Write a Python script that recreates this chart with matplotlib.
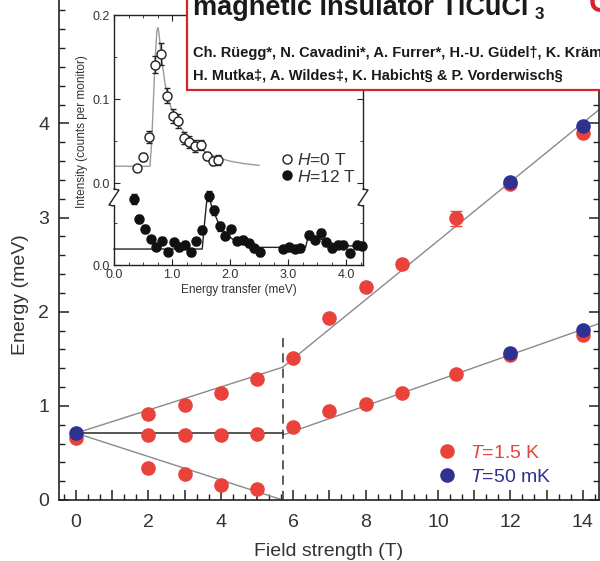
import matplotlib
matplotlib.use('Agg')
import matplotlib.pyplot as plt
from matplotlib.lines import Line2D
from matplotlib.patches import Rectangle
from matplotlib.ticker import MultipleLocator, FixedLocator, FuncFormatter

plt.rcParams['font.family'] = ['Liberation Sans', 'DejaVu Sans']
plt.rcParams['mathtext.fontset'] = 'custom'
plt.rcParams['mathtext.rm'] = 'Liberation Sans'
plt.rcParams['mathtext.it'] = 'Liberation Sans:italic'

RED = '#e8423a'
BLUE = '#2e3192'
GREY = '#8a8a8a'
TXT = '#333333'

# ---- main panel data: excitation energies vs field ----
red_x = [0, 2, 3, 4, 5, 2, 3, 4, 5, 2, 3, 4, 5,
         6, 7, 8, 9, 10.5, 12, 14,
         6, 7, 8, 9, 10.5, 12, 14]
red_y = [0.66, 0.91, 1.01, 1.14, 1.28, 0.69, 0.69, 0.69, 0.70, 0.34, 0.28, 0.16, 0.12,
         1.51, 1.93, 2.26, 2.51, 2.99, 3.36, 3.90,
         0.77, 0.94, 1.02, 1.14, 1.34, 1.54, 1.75]
blue_x = [0, 12, 14, 12, 14]
blue_y = [0.71, 3.38, 3.97, 1.56, 1.81]
err_x = [10.5]
err_y = [2.99]
err_e = [0.08]

# fitted branches (end points)
Hc = 5.71
low_x = [0, Hc]
low_up = [0.71, 1.41]
low_mid = [0.71, 0.71]
low_dn = [0.71, 0.0]
high_x = [Hc, 14.5]
high_up = [1.41, 4.16]
high_dn = [0.69, 1.88]

# ---- inset data: energy scans ----
e0 = [0.40, 0.50, 0.60, 0.70, 0.81, 0.91, 1.01, 1.10, 1.21, 1.30, 1.40, 1.50, 1.60, 1.70, 1.79]
i0 = [0.018, 0.031, 0.055, 0.141, 0.154, 0.104, 0.080, 0.074, 0.054, 0.049, 0.044, 0.045, 0.032, 0.026, 0.027]
s0 = [0.004, 0.005, 0.007, 0.010, 0.013, 0.009, 0.008, 0.008, 0.007, 0.007, 0.007, 0.006, 0.005, 0.005, 0.006]
fit0_x = [0, 0.62, 0.65, 0.68, 0.71, 0.74, 0.76, 0.78, 0.82, 0.88, 0.95, 1.05, 1.15, 1.25, 1.35,
          1.45, 1.6, 1.8, 2.0, 2.25, 2.5]
fit0_y = [0.02, 0.02, 0.05, 0.10, 0.15, 0.182, 0.185, 0.175, 0.148, 0.118, 0.096, 0.078, 0.066,
          0.056, 0.049, 0.043, 0.036, 0.030, 0.026, 0.023, 0.021]

e12 = [0.34, 0.43, 0.53, 0.63, 0.73, 0.83, 0.93, 1.03, 1.12, 1.22, 1.33, 1.42, 1.52, 1.63, 1.72,
       1.82, 1.92, 2.02, 2.12, 2.22, 2.32, 2.42, 2.52, 2.91, 3.01, 3.11, 3.21, 3.36, 3.46, 3.56,
       3.66, 3.76, 3.86, 3.95, 4.07, 4.18, 4.28]
i12 = [0.078, 0.055, 0.043, 0.031, 0.022, 0.029, 0.016, 0.027, 0.021, 0.024, 0.015, 0.028, 0.042,
       0.082, 0.065, 0.046, 0.035, 0.043, 0.029, 0.030, 0.026, 0.020, 0.015, 0.019, 0.021, 0.019,
       0.020, 0.036, 0.030, 0.038, 0.027, 0.020, 0.024, 0.024, 0.014, 0.024, 0.023]
s12 = [0.006, 0.005, 0.005, 0.004, 0.004, 0.004, 0.004, 0.004, 0.004, 0.004, 0.004, 0.004, 0.005,
       0.006, 0.005, 0.005, 0.004, 0.004, 0.004, 0.004, 0.004, 0.004, 0.004, 0.004, 0.004, 0.004,
       0.004, 0.005, 0.004, 0.005, 0.004, 0.004, 0.004, 0.004, 0.004, 0.004, 0.004]
fit12_x = [0, 1.52, 1.56, 1.60, 1.64, 1.70, 1.80, 1.90, 2.0, 2.1, 2.2, 2.3, 2.5, 3.3, 3.34, 3.4,
           3.6, 3.8, 4.0, 4.3]
fit12_y = [0.019, 0.019, 0.05, 0.078, 0.08, 0.066, 0.05, 0.04, 0.033, 0.028, 0.025, 0.023, 0.021,
           0.021, 0.032, 0.034, 0.030, 0.025, 0.023, 0.022]

title = 'magnetic insulator TlCuCl'
authors1 = 'Ch. Rüegg*, N. Cavadini*, A. Furrer*, H.-U. Güdel†, K. Krämer'
authors2 = 'H. Mutka‡, A. Wildes‡, K. Habicht§ & P. Vorderwisch§'

W, H = 600, 561
fig = plt.figure(figsize=(W / 100, H / 100), dpi=100)
renderer = fig.canvas.get_renderer()


def fbox(x0, y0, x1, y1):
    # pixel box (from top-left) -> figure fraction rect
    return [x0 / W, 1 - y1 / H, (x1 - x0) / W, (y1 - y0) / H]


def fit_width(t, width_px):
    w = t.get_window_extent(renderer).width
    t.set_fontsize(t.get_fontsize() * width_px / w)


# ---------------- main axes ----------------
ax = fig.add_axes(fbox(59, 0, 599, 500))
ax.set_xlim(-0.47, 14.45)
ax.set_ylim(0, 5.31)

ax.plot(low_x, low_up, color=GREY, lw=1.0, zorder=2)
ax.plot(low_x, low_dn, color=GREY, lw=1.0, zorder=2)
ax.plot(low_x, low_mid, color='#555555', lw=1.4, zorder=2)
ax.plot(high_x, high_up, color=GREY, lw=1.0, zorder=2)
ax.plot(high_x, high_dn, color=GREY, lw=1.0, zorder=2)
ax.plot([Hc, Hc], [0, 1.78], color='#333333', lw=1.1, ls=(0, (6, 4)), zorder=2)

ax.errorbar(err_x, err_y, yerr=err_e, fmt='none', ecolor=RED, elinewidth=1.2, capsize=4, zorder=3)
hr, = ax.plot(red_x, red_y, 'o', color=RED, ms=10.5, mec='none', zorder=4, label='$T$=1.5 K')
hb, = ax.plot(blue_x, blue_y, 'o', color=BLUE, ms=10.5, mec='none', zorder=5, label='$T$=50 mK')

ax.spines['top'].set_visible(False)
for s in ['left', 'right', 'bottom']:
    ax.spines[s].set_linewidth(1.2)
    ax.spines[s].set_color('#222222')
ax.xaxis.set_major_locator(MultipleLocator(1))
ax.xaxis.set_minor_locator(MultipleLocator(1 / 3))
ax.xaxis.set_major_formatter(FuncFormatter(lambda v, p: '%d' % v if int(round(v)) % 2 == 0 else ''))
ax.yaxis.set_major_locator(FixedLocator([0, 1, 2, 3, 4]))
ax.yaxis.set_minor_locator(MultipleLocator(0.2))
ax.tick_params(which='both', direction='in', right=True, top=False, color='#222222',
               labelsize=14, labelcolor=TXT)
ax.tick_params(which='major', length=7, width=1.1)
ax.tick_params(axis='x', which='major', pad=10)
ax.tick_params(axis='y', which='major', pad=7)
ax.tick_params(which='minor', length=4, width=1.0)
ax.set_xlabel('Field strength (T)', fontsize=14, color=TXT, labelpad=9)
ax.set_ylabel('Energy (meV)', fontsize=14, color=TXT)
ax.yaxis.set_label_coords(-0.056, 0.41)

leg = ax.legend(handles=[hr, hb], loc='center left', bbox_to_anchor=(0.686, 0.07),
                borderaxespad=0, frameon=False, fontsize=14, handlelength=1.0,
                handletextpad=0.7, labelspacing=0.35, labelcolor=[RED, BLUE])

# ---------------- inset (broken y axis) ----------------
ai = fig.add_axes(fbox(114, 15, 363, 189))
ai.set_xlim(0, 4.29)
ai.set_ylim(-0.0071, 0.2)
al = fig.add_axes(fbox(114, 205, 363, 265))
al.set_xlim(0, 4.29)
al.set_ylim(0, 0.0714)

ai.plot(fit0_x, fit0_y, color='#9a9a9a', lw=1.0, zorder=2)
ai.errorbar(e0, i0, yerr=s0, fmt='o', ms=6.5, mfc='white', mec='#222222', mew=1.0,
            ecolor='#222222', elinewidth=1.0, capsize=2.5, zorder=3)
al.plot(fit12_x, fit12_y, color='#222222', lw=1.0, zorder=2, clip_on=False)
al.errorbar(e12, i12, yerr=s12, fmt='o', ms=6.5, mfc='#111111', mec='#111111',
            ecolor='#111111', elinewidth=1.0, capsize=2.5, zorder=3, clip_on=False)

for a in (ai, al):
    for s in a.spines.values():
        s.set_linewidth(1.0)
        s.set_color('#222222')
    a.xaxis.set_major_locator(MultipleLocator(1))
    a.xaxis.set_minor_locator(MultipleLocator(0.25))
    a.tick_params(which='both', direction='in', labelsize=9, labelcolor=TXT, color='#222222',
                  right=True)
    a.tick_params(which='major', length=4, pad=3)
    a.tick_params(which='minor', length=2.5)
ai.spines['bottom'].set_visible(False)
al.spines['top'].set_visible(False)
ai.tick_params(which='both', bottom=False, top=True, labelbottom=False)
ai.yaxis.set_major_locator(MultipleLocator(0.1))
ai.yaxis.set_minor_locator(MultipleLocator(0.05))
ai.yaxis.set_major_formatter(FuncFormatter(lambda v, p: '%.1f' % v))
al.yaxis.set_major_locator(FixedLocator([0.0]))
al.yaxis.set_minor_locator(FixedLocator([0.05]))
al.yaxis.set_major_formatter(FuncFormatter(lambda v, p: '%.1f' % v))
al.xaxis.set_major_formatter(FuncFormatter(lambda v, p: '%.1f' % v))
al.set_xlabel('Energy transfer (meV)', fontsize=8.5, color=TXT, labelpad=2)
ai.set_ylabel('Intensity (counts per monitor)', fontsize=8.5, color=TXT)
ai.yaxis.set_label_coords(-0.105, 0.33)

h0 = Line2D([], [], ls='none', marker='o', ms=6.5, mfc='white', mec='#222222')
h12 = Line2D([], [], ls='none', marker='o', ms=6.5, mfc='#111111', mec='#111111')
ai.legend([h0, h12], ['$H$=0 T', '$H$=12 T'], loc='center left', bbox_to_anchor=(0.646, 0.12),
          borderaxespad=0, frameon=False, fontsize=12.5, handlelength=0.6, handletextpad=0.25,
          labelspacing=0.05, labelcolor=TXT)

# break marks on the inset spines
for x0 in (114, 363):
    zx = [x0, x0 + 5, x0 - 5, x0]
    zy = [189, 190, 205, 206]
    fig.add_artist(Line2D([v / W for v in zx], [1 - v / H for v in zy], color='#222222',
                          lw=1.0, transform=fig.transFigure))

# ---------------- title box (cut off at top and right) ----------------
fig.add_artist(Rectangle((187 / W, 1 - 90 / H), 0.8, 0.3, transform=fig.transFigure,
                         fc='white', ec='#d4242c', lw=1.6, zorder=10))
narrow = ['Liberation Sans Narrow', 'Liberation Sans']
t1 = fig.text(193 / W, 1 - 15 / H, title, fontsize=24, fontweight='bold', family=narrow,
              color='#1a1a1a', va='baseline', zorder=11)
fit_width(t1, 338)
fig.text(535 / W, 1 - 19 / H, '3', fontsize=t1.get_fontsize() * 0.62, fontweight='bold',
         family=narrow, color='#1a1a1a', va='baseline', zorder=11)
fig.text(589 / W, 1 - 12 / H, 'C', fontsize=22, fontweight='bold', color='#d4242c',
         va='baseline', zorder=11)
t3 = fig.text(193 / W, 1 - 79 / H, authors2, fontsize=11, fontweight='bold', family=narrow,
              color='#1a1a1a', va='baseline', zorder=11)
fit_width(t3, 370)
fig.text(193 / W, 1 - 57 / H, authors1, fontsize=t3.get_fontsize(), fontweight='bold',
         family=narrow, color='#1a1a1a', va='baseline', zorder=11)

fig.savefig('out.png', dpi=100)
